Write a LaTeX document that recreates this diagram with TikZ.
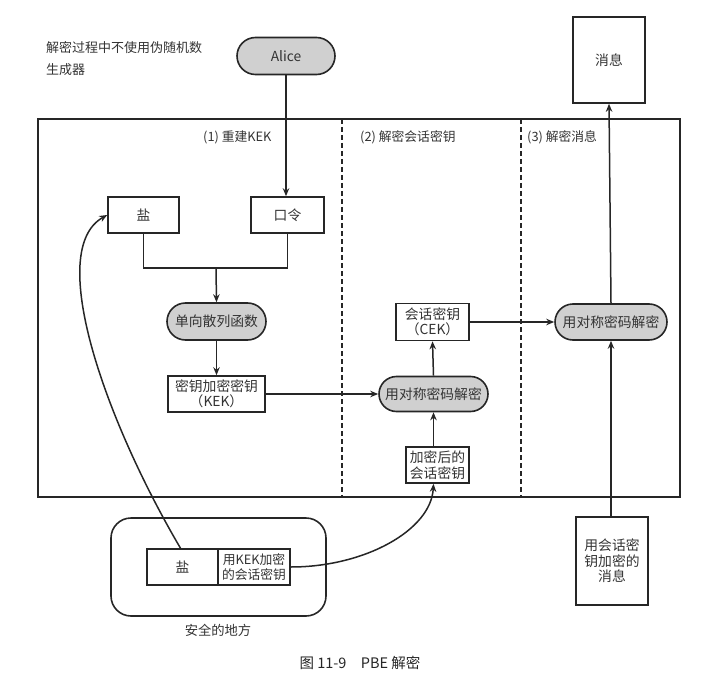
\documentclass[tikz,border=0pt]{standalone}
\usepackage{fontspec}
\setmainfont{Noto Sans CJK SC}
\usetikzlibrary{shapes.misc,arrows.meta}
\definecolor{ink}{HTML}{262626}
\definecolor{txt}{HTML}{333333}
\definecolor{pillfill}{HTML}{D0D0D0}
\begin{document}
\begin{tikzpicture}[x=1pt,y=-1pt,
  font=\fontsize{13.8}{15.5}\selectfont, text=txt,
  box/.style={draw=ink, line width=1.6pt, fill=white, inner sep=1pt, align=center},
  pill/.style={rounded rectangle, draw=ink, line width=1.6pt, fill=pillfill, inner sep=1pt},
  arr/.style={draw=ink, line width=1.5pt, -{Stealth[length=8pt,width=6.5pt]}},
  ln/.style={draw=ink, line width=1.5pt},
  dline/.style={draw=ink, line width=1.4pt, dash pattern=on 5pt off 3pt},
  lbl/.style={font=\fontsize{12.8}{15}\selectfont, inner sep=0pt}]
\useasboundingbox (0,0) rectangle (717,687);

% frame
\node[draw=ink, line width=1.6pt, minimum width=642pt, minimum height=378pt, inner sep=0pt] (frame) at (359,308) {};
\coordinate (d1t) at (342,119); \coordinate (d1b) at (342,497);
\coordinate (d2t) at (521,119); \coordinate (d2b) at (521,497);
\draw[dline] (d1t) -- (d1b);
\draw[dline] (d2t) -- (d2b);

% labels
\node[lbl, anchor=west] (s1) at (203,137) {(1) 重建KEK};
\node[lbl, anchor=west] (s2) at (360,137) {(2) 解密会话密钥};
\node[lbl, anchor=west] (s3) at (527,137) {(3) 解密消息};
\node[lbl, anchor=west, align=left, font=\fontsize{13}{22}\selectfont] (note) at (46,59) {解密过程中不使用伪随机数\\生成器};

% nodes
\node[pill, minimum width=100pt, minimum height=37pt] (alice) at (286,56) {Alice};
\node[box, minimum width=72pt, minimum height=86pt] (msg) at (609,60) {消息};
\node[box, minimum width=71pt, minimum height=36pt] (salt) at (143.5,215) {盐};
\node[box, minimum width=73pt, minimum height=36pt] (pw) at (287.5,215) {口令};
\node[pill, minimum width=101pt, minimum height=37pt] (hash) at (216.5,321.5) {单向散列函数};
\node[box, minimum width=97pt, minimum height=36pt] (kek) at (216.5,394) {密钥加密密钥\\（KEK）};
\node[pill, minimum width=111pt, minimum height=35pt] (dec1) at (433.5,394) {用对称密码解密};
\node[box, minimum width=73pt, minimum height=37pt] (cek) at (432.5,322) {会话密钥\\（CEK）};
\node[pill, minimum width=114pt, minimum height=36pt] (dec2) at (611,322) {用对称密码解密};
\node[box, minimum width=63pt, minimum height=36pt] (enck) at (437.5,465) {加密后的\\会话密钥};
\node[box, minimum width=72pt, minimum height=88pt] (encmsg) at (612,561) {用会话密\\钥加密的\\消息};

% safe place
\node[draw=ink, line width=1.6pt, rounded corners=20pt, minimum width=215pt, minimum height=98pt, inner sep=0pt] (safe) at (218.5,567) {};
\node[box, minimum width=71pt, minimum height=36pt] (scell) at (182.5,567) {盐};
\node[box, minimum width=72pt, minimum height=36pt, font=\fontsize{12.8}{15.5}\selectfont] (kcell) at (254,567) {用KEK加密\\的会话密钥};
\node[lbl, font=\fontsize{13.3}{15}\selectfont] (safelbl) at (218,630) {安全的地方};

% caption
\node[font=\fontsize{14.5}{16}\selectfont, text=ink, inner sep=0pt] (cap) at (360,663) {图 11-9\quad PBE 解密};

% connectors
\coordinate (join) at (216,268);
\draw[arr] (alice.south) -- (alice.south |- pw.north);
\draw[ln] (salt.south) -- (salt.south |- join) -- (pw.south |- join) -- (pw.south);
\draw[arr] (join) -- (hash.north);
\draw[arr] (hash.south) -- (kek.north);
\draw[arr] (kek.east) -- (dec1.west);
\draw[arr] (dec1.north) -- (cek.south);
\draw[arr] (cek.east) -- (dec2.west);
\draw[arr] (dec2.north) -- (msg.south);
\draw[arr] (enck.north -| dec1.south) -- (dec1.south);
\draw[arr] (encmsg.north -| dec2.south) -- (dec2.south);
\draw[arr] (kcell.east) .. controls (365,567) and (431,530) .. (enck.south -| dec1.south);
\draw[arr] ([xshift=-2pt]scell.north) .. controls (105,420) and (45,250) .. (salt.west);
\end{tikzpicture}
\end{document}
